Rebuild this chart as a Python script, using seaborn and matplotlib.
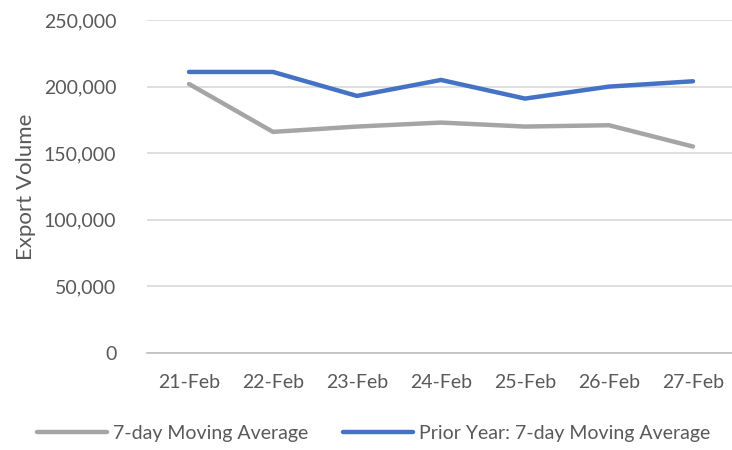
import numpy as np
import pandas as pd
import matplotlib
matplotlib.use("Agg")
import matplotlib.pyplot as plt
import seaborn as sns
from matplotlib.ticker import FuncFormatter, FixedLocator

# Chart data
dates = ["21-Feb", "22-Feb", "23-Feb", "24-Feb", "25-Feb", "26-Feb", "27-Feb"]
current_avg = [202000, 166000, 170000, 173000, 170000, 171000, 155000]
prior_avg = [211000, 211000, 193000, 205000, 191000, 200000, 204000]
series_names = ["7-day Moving Average", "Prior Year: 7-day Moving Average"]
y_ticks = [0, 50000, 100000, 150000, 200000, 250000]

df = pd.DataFrame({
    "Date": dates * 2,
    "Volume": current_avg + prior_avg,
    "Series": [series_names[0]] * len(dates) + [series_names[1]] * len(dates),
})

sns.set_style("white")
plt.rcParams["font.family"] = ["Lato", "DejaVu Sans"]

text_color = "#595959"
grid_color = "#d9d9d9"
fs = 14

fig = plt.figure(figsize=(7.32, 4.5), dpi=100)
ax = fig.add_axes([147 / 732, 1 - 353 / 450, 588 / 732, 333 / 450])

sns.lineplot(data=df, x="Date", y="Volume", hue="Series", ax=ax,
             palette={series_names[0]: "#A5A5A5", series_names[1]: "#4472C4"},
             linewidth=3.2, sort=False, legend=True)
for line in ax.lines:
    line.set_solid_capstyle("round")
    line.set_solid_joinstyle("round")

ax.set_xlim(-0.5, len(dates) - 0.5)
ax.set_ylim(0, 250000)
ax.set_yticks(y_ticks)
ax.yaxis.set_major_formatter(FuncFormatter(lambda v, p: f"{int(v):,}"))
ax.grid(axis="y", color=grid_color, linewidth=1.2)
ax.set_axisbelow(True)

for side in ["top", "right", "left"]:
    ax.spines[side].set_visible(False)
ax.spines["bottom"].set_color("#bfbfbf")
ax.spines["bottom"].set_linewidth(1.2)

ax.tick_params(axis="y", length=0, pad=22, labelsize=fs, labelcolor=text_color)
ax.tick_params(axis="x", which="major", length=0, pad=15, labelsize=fs, labelcolor=text_color)
ax.xaxis.set_minor_locator(FixedLocator(np.arange(-0.5, len(dates), 1.0)))
ax.tick_params(axis="x", which="minor", length=5, color="#bfbfbf", width=1.2)

ax.set_xlabel("")
ax.set_ylabel("Export Volume", fontsize=16, color=text_color, labelpad=6)

handles, labels = ax.get_legend_handles_labels()
ax.get_legend().remove()
fig.legend(handles, labels, loc="lower center", bbox_to_anchor=(0.51, -0.02), ncol=2,
           frameon=False, fontsize=fs, labelcolor=text_color, handlelength=3.6,
           handletextpad=0.3, columnspacing=1.8)

fig.savefig("out.png", dpi=100)
